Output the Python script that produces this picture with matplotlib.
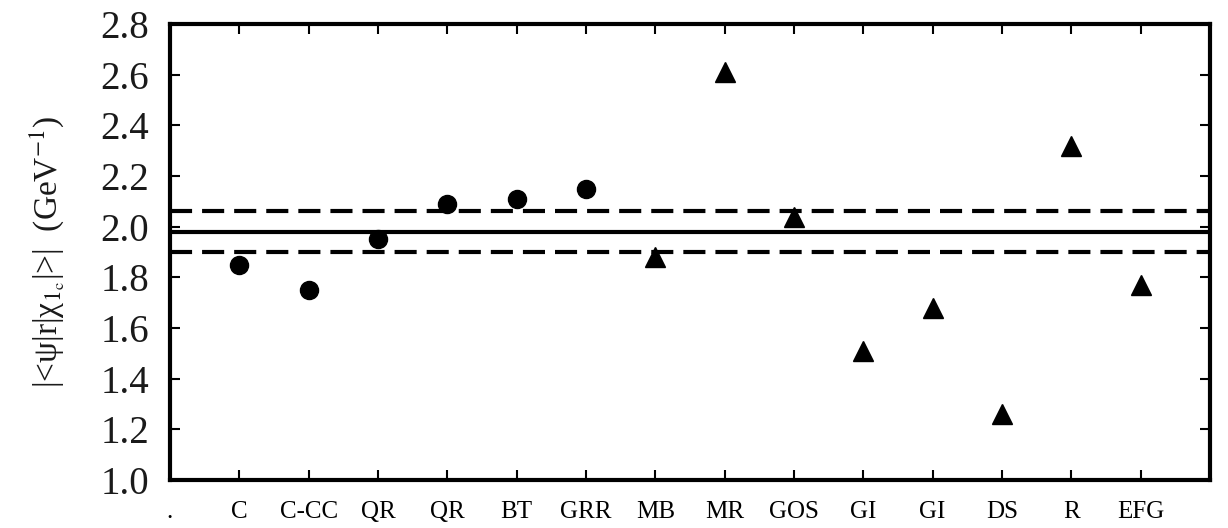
import matplotlib
matplotlib.use('Agg')
import matplotlib.pyplot as plt
import numpy as np

plt.rcParams['font.family'] = ['Liberation Serif', 'DejaVu Serif']
plt.rcParams['mathtext.fontset'] = 'stix'

# model labels along the x axis (position 0 is the "." placeholder)
labels = ['.', 'C', 'C-CC', 'QR', 'QR', 'BT', 'GRR', 'MB', 'MR', 'GOS', 'GI', 'GI', 'DS', 'R', 'EFG']

# potential-model results (circles)
circ_x = [1, 2, 3, 4, 5, 6]
circ_y = [1.85, 1.75, 1.95, 2.09, 2.11, 2.15]

# other approaches (triangles)
tri_x = [7, 8, 9, 10, 11, 12, 13, 14]
tri_y = [1.88, 2.61, 2.04, 1.51, 1.68, 1.26, 2.32, 1.77]

# average value and its band
mean_val = 1.98
band_lo = 1.90
band_hi = 2.06

fig = plt.figure(figsize=(12.28, 5.28), dpi=100)
ax = fig.add_axes([0.1384, 0.0909, 0.9853 - 0.1384, 0.9545 - 0.0909])

ax.axhline(mean_val, color='black', lw=3)
ax.axhline(band_hi, color='black', lw=3, dashes=(5.3, 2.4))
ax.axhline(band_lo, color='black', lw=3, dashes=(5.3, 2.4))

ax.plot(circ_x, circ_y, 'o', color='black', markersize=13, zorder=3)
ax.plot(tri_x, tri_y, '^', color='black', markersize=14, zorder=3)

ax.set_xlim(0, 15)
ax.set_ylim(1.0, 2.8)
ax.set_xticks(range(len(labels)))
ax.set_xticklabels(labels, fontsize=18)
yt = np.arange(1.0, 2.81, 0.2)
ax.set_yticks(yt)
ax.set_yticklabels(['%.1f' % v for v in yt], fontsize=28, color='#1a1a1a')

ax.tick_params(axis='both', direction='in', length=7, width=1.5, top=True, right=True)
ax.tick_params(axis='y', pad=15)
ax.tick_params(axis='x', pad=15)
for sp in ax.spines.values():
    sp.set_linewidth(3)

ax.set_ylabel(r'|<ψ|r|χ$_{1_{\rm c}}$|>|  (GeV$^{-1}$)', fontsize=24,
              labelpad=24, color='#1a1a1a')

fig.savefig('out.png', dpi=100, facecolor='white')
